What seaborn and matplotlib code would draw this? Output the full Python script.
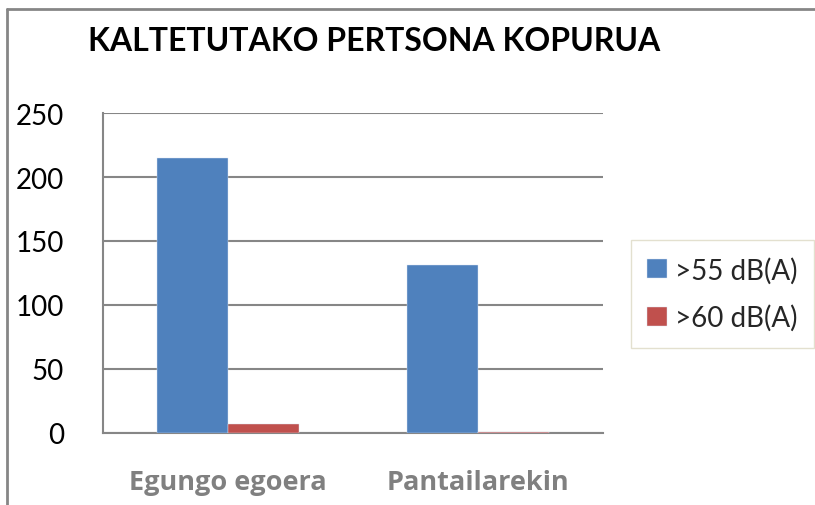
"""
Kaltetutako pertsona kopurua - barra grafikoa
"""
import pandas as pd
import matplotlib.pyplot as plt
import seaborn as sns
from matplotlib.lines import Line2D

# Datuak
egoerak = ['Egungo egoera', 'Pantailarekin']
maila_55 = [215, 131]
maila_60 = [7, 1]
serieak = ['>55 dB(A)', '>60 dB(A)']
y_ticks = [0, 50, 100, 150, 200, 250]

df = pd.DataFrame({
    'egoera': egoerak * 2,
    'serie': [serieak[0]] * len(egoerak) + [serieak[1]] * len(egoerak),
    'kopurua': maila_55 + maila_60,
})

sns.set_style('white')
plt.rcParams['font.family'] = ['Lato', 'DejaVu Sans']

fig = plt.figure(figsize=(8.15, 5.06), dpi=100)
ax = fig.add_axes([0.1264, 0.1423, 0.6135, 0.6324])

sns.barplot(data=df, x='egoera', y='kopurua', hue='serie', hue_order=serieak,
            palette=['#4F81BD', '#C0504D'], saturation=1, width=0.57, ax=ax,
            edgecolor='#DCE6F2', linewidth=0.3, legend=True)
# barrak ardatzaren gainean
for p in ax.patches:
    p.set_zorder(3)

ax.set_ylim(0, 250)
ax.set_xlim(-0.5, 1.5)
ax.set_yticks(y_ticks)
ax.set_yticklabels([str(t) for t in y_ticks], fontsize=20, color='black')
ax.tick_params(axis='y', length=0, pad=28)
ax.tick_params(axis='x', length=0, pad=26)
for lbl in ax.get_xticklabels():
    lbl.set_fontsize(19.5)
    lbl.set_fontweight('bold')
    lbl.set_fontfamily(['Open Sans', 'DejaVu Sans'])
    lbl.set_color('#808080')
ax.set_xlabel('')
ax.set_ylabel('')
ax.grid(axis='y', color='#868686', linewidth=1.5)
ax.set_axisbelow(True)
for side in ['top', 'right']:
    ax.spines[side].set_visible(False)
for side in ['left', 'bottom']:
    ax.spines[side].set_color('#868686')
    ax.spines[side].set_linewidth(1.5)

# Legenda
handles, labels = ax.get_legend_handles_labels()
ax.get_legend().remove()
fig.legend(handles, labels, loc='center', bbox_to_anchor=(0.8865, 0.4175),
           fontsize=20, frameon=True, fancybox=False, edgecolor='#DDD9C3',
           handlelength=0.7, handleheight=0.7, handletextpad=0.3,
           labelspacing=0.75, borderpad=0.6)

# Izenburua
fig.text(0.459, 0.917, 'KALTETUTAKO PERTSONA KOPURUA', ha='center', va='center',
         fontsize=23, fontweight='bold', color='black')

# Kanpoko markoa
fig.add_artist(Line2D([0.009, 0.009], [0.0, 0.98], color='#868686', linewidth=2))
fig.add_artist(Line2D([0.009, 1.0], [0.98, 0.98], color='#868686', linewidth=2))

plt.savefig('out.png', dpi=100)
plt.close()
